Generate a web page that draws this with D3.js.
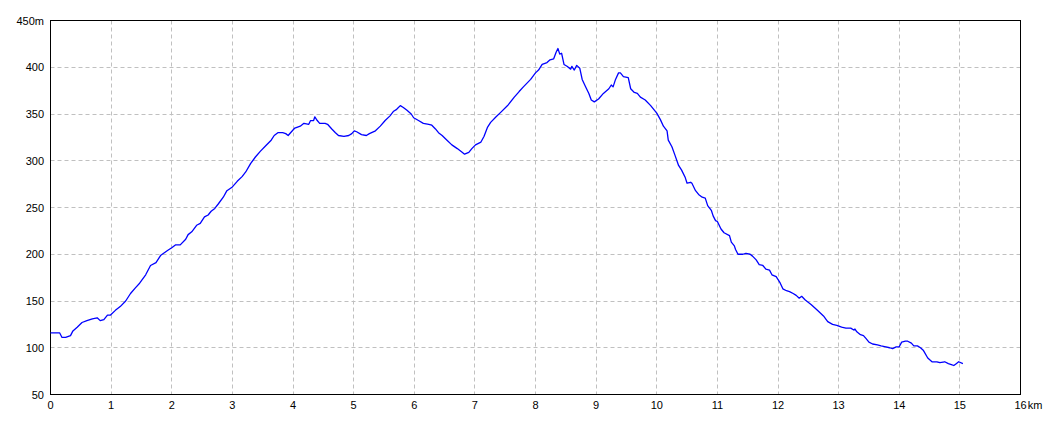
<!DOCTYPE html>
<html>
<head>
<meta charset="utf-8">
<script src="https://cdn.jsdelivr.net/npm/d3@7"></script>
<style>
html,body{margin:0;padding:0;background:#fff;}
svg{display:block;}
text{font-family:"Liberation Sans","DejaVu Sans",sans-serif;font-size:11px;fill:#000;}
</style>
</head>
<body>
<svg id="chart" width="1060" height="424"></svg>
<script>
// Distance along route (km)
const distances = [0,0.15,0.19,0.25,0.33,0.37,0.44,0.52,0.6,0.69,0.77,0.82,0.88,0.94,0.99,1.07,1.15,1.24,1.32,1.4,1.47,1.57,1.65,1.74,1.82,1.93,2.0,2.06,2.14,2.23,2.27,2.33,2.41,2.47,2.54,2.6,2.65,2.71,2.77,2.85,2.91,3.0,3.08,3.16,3.22,3.3,3.38,3.46,3.55,3.64,3.69,3.75,3.83,3.88,3.92,3.96,4.03,4.12,4.18,4.26,4.29,4.34,4.36,4.4,4.44,4.53,4.57,4.64,4.7,4.75,4.84,4.92,4.97,5.01,5.05,5.13,5.21,5.26,5.36,5.44,5.52,5.6,5.66,5.71,5.77,5.82,5.88,5.95,5.99,6.07,6.15,6.24,6.29,6.35,6.4,6.46,6.54,6.62,6.71,6.79,6.83,6.9,6.95,7.01,7.1,7.15,7.21,7.26,7.35,7.43,7.54,7.65,7.73,7.8,7.86,7.92,8.0,8.05,8.11,8.19,8.24,8.3,8.34,8.37,8.4,8.43,8.47,8.52,8.58,8.6,8.64,8.68,8.73,8.77,8.82,8.88,8.92,8.97,9.04,9.12,9.21,9.25,9.28,9.32,9.37,9.4,9.45,9.53,9.57,9.63,9.68,9.73,9.81,9.9,9.95,10.0,10.06,10.11,10.17,10.19,10.25,10.3,10.36,10.41,10.47,10.5,10.56,10.58,10.64,10.69,10.75,10.8,10.84,10.9,10.93,10.97,11.0,11.06,11.11,11.2,11.23,11.28,11.3,11.34,11.42,11.47,11.54,11.58,11.64,11.69,11.75,11.8,11.86,11.9,11.97,12.03,12.08,12.14,12.19,12.25,12.3,12.35,12.39,12.45,12.55,12.65,12.75,12.82,12.9,12.97,13.05,13.12,13.2,13.25,13.27,13.3,13.36,13.41,13.45,13.5,13.56,13.64,13.7,13.78,13.84,13.89,13.95,14.0,14.04,14.1,14.14,14.2,14.24,14.3,14.35,14.4,14.47,14.54,14.62,14.67,14.75,14.81,14.86,14.9,14.94,14.98,15.05];
// Elevation (m)
const elevations = [116,116,111,111,113,118,122,127,129,131,132,129,130,135,135,140,144,150,158,164,169,178,188,191,199,204,207,210,210,216,221,224,231,233,240,242,246,249,254,261,268,272,278,283,288,297,304,310,316,322,327,330,330,329,327,330,335,337,340,339,343,343,347,343,340,340,339,334,330,327,326,327,329,332,331,328,327,329,332,337,343,348,353,355,359,357,354,350,346,343,340,339,338,334,330,327,322,317,313,309,307,309,313,317,320,326,336,341,347,352,359,368,374,379,383,387,394,397,403,405,408,409,416,420,414,415,403,401,398,401,397,402,399,387,380,372,365,363,366,372,377,381,379,387,394,394,390,389,377,373,372,368,365,359,355,351,344,337,332,322,315,306,295,290,282,276,277,276,268,264,261,260,252,247,241,236,235,227,223,220,213,209,205,200,200,201,200,198,194,189,188,184,183,178,176,170,163,161,160,158,156,153,155,151,146,140,134,128,125,124,122,121,121,119,120,117,114,113,110,106,104,103,102,101,100,99,101,101,106,107,107,105,102,102,100,97,89,85,85,84,85,83,82,81,83,85,83];

const xTicks = [0,1,2,3,4,5,6,7,8,9,10,11,12,13,14,15,16];
const xTickLabels = ["0","1","2","3","4","5","6","7","8","9","10","11","12","13","14","15","16"];
const yTicks = [50,100,150,200,250,300,350,400,450];
const yTickLabels = ["50","100","150","200","250","300","350","400","450m"];

const svg = d3.select("#chart");
const x = d3.scaleLinear().domain([0,16]).range([50.5,1020.5]);
const y = d3.scaleLinear().domain([50,450]).range([394.5,20.5]);

// grid
const grid = svg.append("g");
grid.selectAll("line.v").data(xTicks.slice(1,-1)).enter().append("line")
  .attr("x1",d=>Math.round(x(d)-0.5)+0.5).attr("x2",d=>Math.round(x(d)-0.5)+0.5)
  .attr("y1",y(450)).attr("y2",y(50))
  .attr("stroke","#c0c0c0").attr("stroke-width",1).attr("stroke-dasharray","4,3");
grid.selectAll("line.h").data(yTicks.slice(1,-1)).enter().append("line")
  .attr("y1",d=>Math.round(y(d)-0.5)+0.5).attr("y2",d=>Math.round(y(d)-0.5)+0.5)
  .attr("x1",x(0)).attr("x2",x(16))
  .attr("stroke","#c0c0c0").attr("stroke-width",1).attr("stroke-dasharray","4,3");

// frame
svg.append("rect").attr("x",x(0)).attr("y",y(450))
  .attr("width",x(16)-x(0)).attr("height",y(50)-y(450))
  .attr("fill","none").attr("stroke","#000").attr("stroke-width",1);

// line
const pts = distances.map((d,i)=>[d,elevations[i]]);
svg.append("path").datum(pts)
  .attr("d", d3.line().x(d=>x(d[0])).y(d=>y(d[1])))
  .attr("fill","none").attr("stroke","#0000ff").attr("stroke-width",1.3)
  .attr("stroke-linejoin","round");

// y labels
svg.append("g").selectAll("text").data(yTicks).enter().append("text")
  .attr("x",44).attr("y",d=>y(d)+4)
  .attr("text-anchor","end")
  .text((d,i)=>yTickLabels[i]);

// x labels
const xl = svg.append("g");
xTicks.forEach((t,i)=>{
  if(i<xTicks.length-1){
    xl.append("text").attr("x",x(t)).attr("y",409).attr("text-anchor","middle").text(xTickLabels[i]);
  } else {
    const tx = xl.append("text").attr("x",x(t)).attr("y",409).attr("text-anchor","middle").text(xTickLabels[i]);
    const w = tx.node().getComputedTextLength();
    xl.append("text").attr("x",x(t)+w/2+1).attr("y",409).attr("text-anchor","start").text("km");
  }
});
</script>
</body>
</html>
